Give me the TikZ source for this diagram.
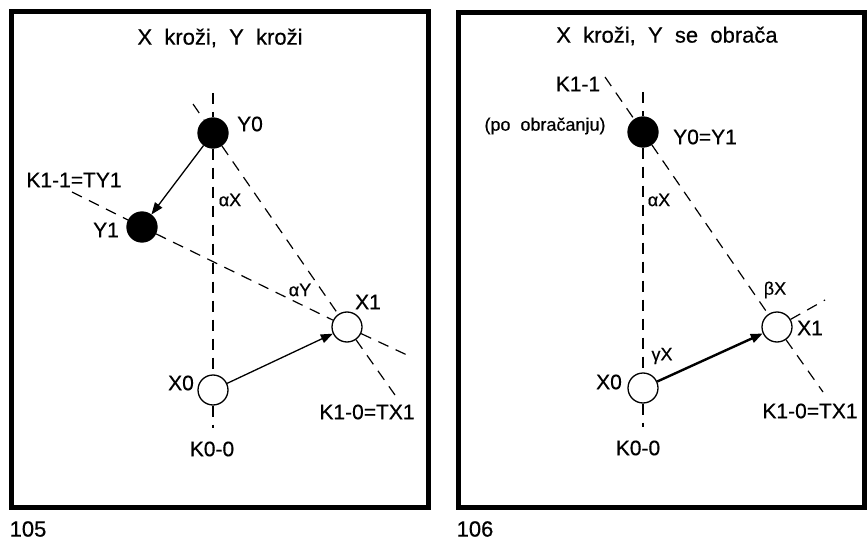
\documentclass[tikz,border=0pt]{standalone}
\usepackage{fontspec}
\setmainfont{Liberation Sans}[FakeBold=0.5]
\usetikzlibrary{arrows.meta}

\begin{document}
\begin{tikzpicture}[x=1pt,y=-1pt]
\useasboundingbox (0,0) rectangle (867,540);
\draw [line width=5pt] (11,12) rectangle (428,507);
\draw [line width=5pt] (458,13) rectangle (864,507);
\begin{scope}[every node/.style={circle,draw,line width=1.3pt,minimum size=30pt,inner sep=0pt}]
    % 105
    \node [fill=black] (ly0) at (213,133) {};
    \node [fill=black] (ly1) at (142,227) {};
    \node (lx0) at (213,390) {};
    \node (lx1) at (347,327) {};
    % 106
    \node [fill=black] (ry0) at (643,132) {};
    \node (rx0) at (643,388) {};
    \node (rx1) at (777,327) {};
\end{scope}
\coordinate (lk0a) at (213,93);
\coordinate (lk0b) at (213,428);
\coordinate (lk1a) at (193,104);
\coordinate (lk1b) at (395,395);
\coordinate (lty1a) at (72,192);
\coordinate (lty1b) at (407,355);
\coordinate (rk0a) at (643,92);
\coordinate (rk0b) at (643,427);
\coordinate (rk1a) at (605,77);
\coordinate (rk1b) at (823,392);
\coordinate (rx1c) at (825,300);
\begin{scope}[>={Triangle[length=12pt,width=9pt]},
              dash_line/.style={draw=black,line width=1.2pt,dash pattern=on 11pt off 8pt},
              move_edge/.style={draw=black,line width=1.3pt},
              turn_edge/.style={draw=black,line width=2.4pt}]
    \path (lk0a) edge [dash_line] (ly0);
    \path (ly0) edge [dash_line] (lx0);
    \path (lx0) edge [dash_line] (lk0b);
    \path (lk1a) edge [dash_line] (ly0);
    \path (ly0) edge [dash_line] (lx1);
    \path (lx1) edge [dash_line] (lk1b);
    \path (lty1a) edge [dash_line] (ly1);
    \path (ly1) edge [dash_line] (lx1);
    \path (lx1) edge [dash_line] (lty1b);
    \path [->] (ly0) edge [move_edge] (ly1);
    \path [->] (lx0) edge [move_edge] (lx1);
    \path (rk0a) edge [dash_line] (ry0);
    \path (ry0) edge [dash_line] (rx0);
    \path (rx0) edge [dash_line] (rk0b);
    \path (rk1a) edge [dash_line] (ry0);
    \path (ry0) edge [dash_line] (rx1);
    \path (rx1) edge [dash_line] (rk1b);
    \path (rx1) edge [dash_line] (rx1c);
    \path [->] (rx0) edge [turn_edge] (rx1);
\end{scope}
\begin{scope}[every node/.style={inner sep=0pt,font=\fontsize{21}{23}\selectfont},
              greek/.style={font=\fontsize{18}{20}\selectfont}]
    \node [font=\fontsize{22}{24}\selectfont] (ltitle) at (220,38) {X~~kroži,~~Y~~kroži};
    \node (lty0) at (250,124) {Y0};
    \node (lty1) at (106,230) {Y1};
    \node (ltk11) at (74,180) {K1-1=TY1};
    \node [greek] (ltax) at (230,200) {αX};
    \node [greek] (ltay) at (300,290) {αY};
    \node (ltx1) at (368,302) {X1};
    \node (ltx0) at (181,383) {X0};
    \node (ltk00) at (212,449) {K0-0};
    \node (ltk10) at (367,412) {K1-0=TX1};
    \node [font=\fontsize{22}{24}\selectfont] (lnum) at (28,529) {105};
    \node [font=\fontsize{22}{24}\selectfont] (rtitle) at (667,36) {X~~kroži,~~Y~~se~~obrača};
    \node (rtk11) at (578,84) {K1-1};
    \node [font=\fontsize{18}{20}\selectfont] (rtpo) at (545,126) {(po~~obračanju)};
    \node (rty0) at (705,137) {Y0=Y1};
    \node [greek] (rtax) at (659,200) {αX};
    \node [greek] (rtgx) at (662,356) {γX};
    \node (rtx0) at (609,382) {X0};
    \node (rtk00) at (638,448) {K0-0};
    \node [greek] (rtbx) at (775,290) {βX};
    \node (rtx1) at (810,328) {X1};
    \node (rtk10) at (810,411) {K1-0=TX1};
    \node [font=\fontsize{22}{24}\selectfont] (rnum) at (475,529) {106};
\end{scope}
\end{tikzpicture}
\end{document}
